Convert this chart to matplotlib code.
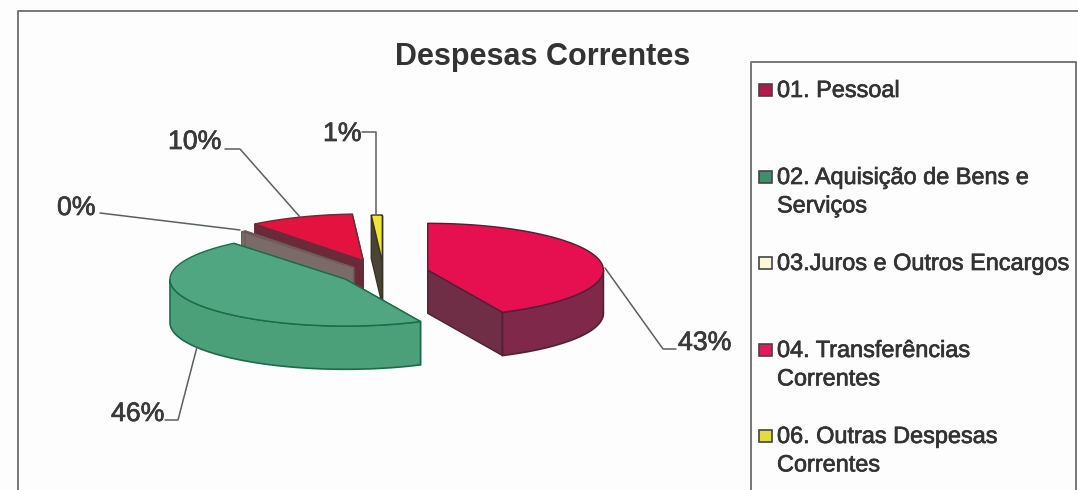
#!/usr/bin/env python3
"""Despesas Correntes - scanned 3D exploded pie, drawn by hand on pixel-like axes"""

import numpy as np
import matplotlib
matplotlib.use('Agg')
import matplotlib.pyplot as plt
from matplotlib.patches import Polygon, Rectangle
import matplotlib.patheffects as pe

plt.rcParams['font.family'] = ['Liberation Sans', 'DejaVu Sans']

# data
title = 'Despesas Correntes'
categories = ['01. Pessoal', '02. Aquisição de Bens e\nServiços', '03.Juros e Outros Encargos',
              '04. Transferências\nCorrentes', '06. Outras Despesas\nCorrentes']
values = [43.0, 46.0, 0.4, 9.6, 1.0]

# canvas, 1 unit = 1 pixel
fig = plt.figure(figsize=(10.78, 4.9), dpi=100, facecolor='#fdfdfd')
ax = fig.add_axes([0, 0, 1, 1])
ax.set_xlim(0, 1078)
ax.set_ylim(490, 0)
ax.axis('off')

# pie geometry
a, b, depth = 175.7, 46.7, 43.3
centers = [(427.7, 270.0), (345.7, 279.3), (353.7, 267.7), (363.3, 260.7), (382.3, 261.7)]
top_colors = ['#e60f50', '#4fa680', '#6e3f3c', '#e3123f', '#efe636']
wall_colors = ['#7f2849', '#4b9f79', '#6e3f3c', '#6b2a38', '#4a4030']
face_colors = ['#6f2e45', '#4b9f79', '#7a6a68', '#6b2a38', '#4a4434']
edge_colors = ['#4d2233', '#1c6c4a', '#6e5c5a', '#6b2a38', '#3a3428']
draw_order = [3, 4, 2, 0, 1]

# slice angles, clockwise from 12 o'clock
sweep = np.array(values) / sum(values) * 360
ends = 90 - np.cumsum(sweep)
starts = ends + sweep


def rim(c, t1, t2, drop=0.0):
    t = np.radians(np.linspace(t1, t2, 80))
    return np.column_stack([c[0] + a * np.cos(t), c[1] - b * np.sin(t) + drop])


for i in draw_order:
    c = centers[i]
    ec = edge_colors[i]
    # cut faces
    for ang in (starts[i], ends[i]):
        p = rim(c, ang, ang)[0]
        ax.add_patch(Polygon([p, c, (c[0], c[1] + depth), (p[0], p[1] + depth)],
                             facecolor=face_colors[i], edgecolor=ec, linewidth=1))
    # outer wall, only the front half shows
    hi, lo = min(starts[i], 0), max(ends[i], -180)
    if hi > lo:
        wall = np.vstack([rim(c, hi, lo), rim(c, lo, hi, depth)])
        ax.add_patch(Polygon(wall, facecolor=wall_colors[i], edgecolor=ec, linewidth=1.2))
    # top
    top = np.vstack([[c], rim(c, starts[i], ends[i])])
    ax.add_patch(Polygon(top, facecolor=top_colors[i], edgecolor=ec, linewidth=1))

stroke = [pe.withStroke(linewidth=0.5, foreground='#333333')]

# data labels + leader lines
label_pos = [(678, 343), (111, 414), (57, 208), (168, 142), (323, 134)]
leaders = [[(605, 268), (663, 349), (676, 349)],
           [(197, 347), (178, 420), (165, 420)],
           [(100, 213), (240, 230)],
           [(225, 149), (240, 149), (300, 217)],
           [(362, 132), (376, 132), (376, 214)]]
for v, (x, y), pts in zip(values, label_pos, leaders):
    ax.plot(*zip(*pts), color='#5a5f5f', lw=1.1, solid_capstyle='round')
    ax.text(x, y, f'{round(v)}%', fontsize=19.2, color='#3a3a3a', ha='left', va='center',
            path_effects=stroke)

# title
ax.text(543, 57, title, fontsize=22, fontweight='bold', color='#333333', ha='center', va='center')

# outer frame, bottom and sides run off the scan
ax.plot([18, 18, 1078], [490, 11, 11], color='#777777', lw=1.4)

# legend box
ax.plot([751, 751, 1076, 1076], [490, 62, 62, 490], color='#777777', lw=1.4)
legend_y = [90, 177, 263, 350, 436]
legend_colors = ['#b3174c', '#3e8f6e', '#fbf8d8', '#e01a5c', '#e4dc3c']
for name, y, col in zip(categories, legend_y, legend_colors):
    ax.add_patch(Rectangle((759, y - 6), 13, 12, facecolor=col, edgecolor='#444444', linewidth=1.2))
    ax.text(777, y - 11, name, fontsize=16.9, color='#333333', ha='left', va='top',
            linespacing=1.3, path_effects=stroke)

fig.savefig('out.png', dpi=100, facecolor=fig.get_facecolor())
